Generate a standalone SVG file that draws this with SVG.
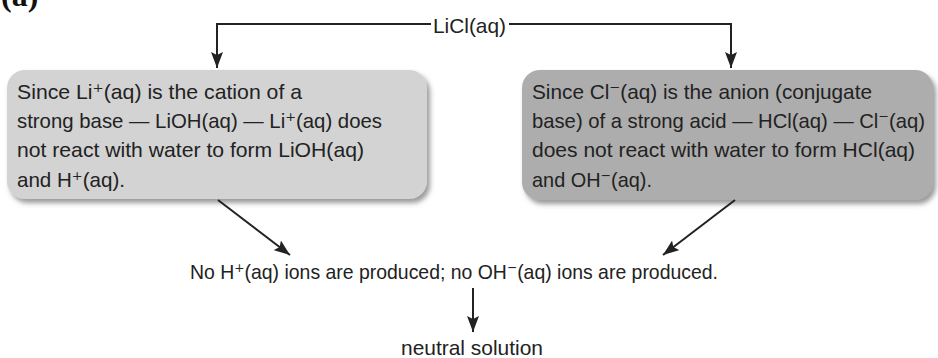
<svg xmlns="http://www.w3.org/2000/svg" width="938" height="358" viewBox="0 0 938 358">
<defs>
<style>
.t{font-family:"Liberation Sans","DejaVu Sans",Arial,sans-serif;font-size:21px;fill:#222;}
.ln{stroke:#222;stroke-width:2;fill:none;}
</style>
<marker id="ah" markerUnits="userSpaceOnUse" markerWidth="16" markerHeight="12" refX="16" refY="6" orient="auto" viewBox="0 0 16 12">
<path d="M0,0 L16,6 L0,12 L3,6 z" fill="#222"/>
</marker>
<filter id="sh" x="-5%" y="-10%" width="115%" height="130%">
<feDropShadow dx="3" dy="4" stdDeviation="2.5" flood-color="#555" flood-opacity="0.6"/>
</filter>
</defs>
<rect width="938" height="358" fill="#fff"/>
<text x="1" y="6" font-family="Liberation Serif,serif" font-weight="bold" font-size="32" fill="#111">(a)</text>

<g id="licl">
<text class="t" x="433" y="33" textLength="73" lengthAdjust="spacingAndGlyphs">LiCl(aq)</text>
</g>

<g id="left-box">
<rect x="7" y="70" width="420" height="129" rx="18" fill="#d3d3d3" filter="url(#sh)"/>
<text class="t" x="17" y="99" textLength="285" lengthAdjust="spacingAndGlyphs">Since Li⁺(aq) is the cation of a</text>
<text class="t" x="17" y="128" textLength="365" lengthAdjust="spacingAndGlyphs">strong base — LiOH(aq) — Li⁺(aq) does</text>
<text class="t" x="17" y="157" textLength="347" lengthAdjust="spacingAndGlyphs">not react with water to form LiOH(aq)</text>
<text class="t" x="17" y="187" textLength="108" lengthAdjust="spacingAndGlyphs">and H⁺(aq).</text>
</g>

<g id="right-box">
<rect x="522" y="70" width="411" height="130" rx="18" fill="#adadad" filter="url(#sh)"/>
<text class="t" x="532" y="99" textLength="340" lengthAdjust="spacingAndGlyphs">Since Cl⁻(aq) is the anion (conjugate</text>
<text class="t" x="532" y="128" textLength="393" lengthAdjust="spacingAndGlyphs">base) of a strong acid — HCl(aq) — Cl⁻(aq)</text>
<text class="t" x="532" y="157" textLength="383" lengthAdjust="spacingAndGlyphs">does not react with water to form HCl(aq)</text>
<text class="t" x="532" y="187" textLength="120" lengthAdjust="spacingAndGlyphs">and OH⁻(aq).</text>
</g>

<g id="result">
<text class="t" x="190" y="279" textLength="528" lengthAdjust="spacingAndGlyphs">No H⁺(aq) ions are produced; no OH⁻(aq) ions are produced.</text>
</g>

<g id="neutral">
<text class="t" x="401" y="355" textLength="142" lengthAdjust="spacingAndGlyphs">neutral solution</text>
</g>

<g id="connectors">
<path class="ln" d="M431,24 H217 V68" marker-end="url(#ah)"/>
<path class="ln" d="M509,24 H731 V68" marker-end="url(#ah)"/>
<path class="ln" d="M218,200 L290,255" marker-end="url(#ah)"/>
<path class="ln" d="M735,200 L663,255" marker-end="url(#ah)"/>
<path class="ln" d="M473,288 V332" marker-end="url(#ah)"/>
</g>
</svg>
